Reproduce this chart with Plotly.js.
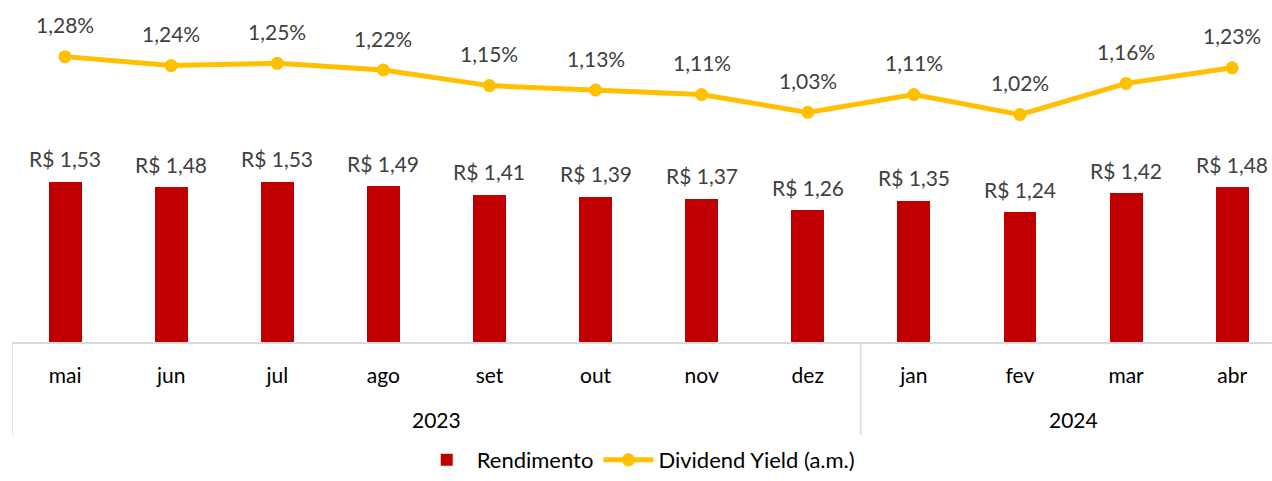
<!DOCTYPE html>
<html>
<head>
<meta charset="utf-8">
<script src="https://cdn.plot.ly/plotly-3.0.1.min.js"></script>
<style>html,body{margin:0;padding:0;background:#fff;}#chart{width:1272px;height:481px;}</style>
</head>
<body>
<div id="chart"></div>
<script>
const months = ['mai','jun','jul','ago','set','out','nov','dez','jan','fev','mar','abr'];
const years = ['2023','2023','2023','2023','2023','2023','2023','2023','2024','2024','2024','2024'];
const rendimento = [1.53,1.48,1.53,1.49,1.41,1.39,1.37,1.26,1.35,1.24,1.42,1.48];
const dividendYield = [1.28,1.24,1.25,1.22,1.15,1.13,1.11,1.03,1.11,1.02,1.16,1.23];

const fmt = v => v.toFixed(2).replace('.', ',');
const FONT = 'Lato, "Open Sans", sans-serif';
const GRID = '#d9d9d9';

// year groups derived from the years array
const groupNames = [], groupCenters = [], groupBounds = [-0.5];
let start = 0;
for (let i = 1; i <= years.length; i++) {
  if (i === years.length || years[i] !== years[start]) {
    groupNames.push(years[start]);
    groupCenters.push((start + i - 1) / 2);
    groupBounds.push(i - 0.5);
    start = i;
  }
}

const traces = [
  {
    type: 'bar', name: 'Rendimento',
    x: months, y: rendimento,
    marker: {color: '#C00000'}, width: 0.31,
    hoverinfo: 'skip'
  },
  {
    type: 'scatter', mode: 'lines+markers', name: 'Dividend Yield (a.m.)',
    x: months, y: dividendYield, yaxis: 'y2',
    line: {color: '#FFC000', width: 5},
    marker: {color: '#FFC000', size: 13},
    hoverinfo: 'skip'
  }
];

const annotations = [];
rendimento.forEach((v, i) => annotations.push({
  xref: 'x', yref: 'y', x: months[i], y: v, yshift: 23, yanchor: 'middle',
  text: 'R$ ' + fmt(v), showarrow: false,
  font: {family: FONT, size: 21, color: '#404040'}
}));
dividendYield.forEach((v, i) => annotations.push({
  xref: 'x', yref: 'y2', x: months[i], y: v, yshift: 32, yanchor: 'middle',
  text: fmt(v) + '%', showarrow: false,
  font: {family: FONT, size: 21, color: '#404040'}
}));
groupNames.forEach((g, k) => annotations.push({
  xref: 'x', yref: 'paper', x: groupCenters[k], y: -0.228, yanchor: 'middle',
  text: g, showarrow: false,
  font: {family: FONT, size: 21, color: '#000'}
}));

const shapes = groupBounds.map(b => ({
  type: 'line', xref: 'x', yref: 'paper', x0: b, x1: b, y0: 0, y1: -0.272,
  line: {color: GRID, width: 1.5}
}));

const xr = [-0.5, -0.5 + 1260/106.1];

const layout = {
  width: 1272, height: 481,
  margin: {l: 12, r: 0, t: 0, b: 139, autoexpand: false},
  paper_bgcolor: '#fff', plot_bgcolor: '#fff',
  font: {family: FONT, size: 21, color: '#000'},
  showlegend: true,
  legend: {orientation: 'h', x: 0.497, xanchor: 'center', y: -0.4064, yanchor: 'bottom',
           font: {family: FONT, size: 22, color: '#000'}, itemwidth: 50},
  xaxis: {
    type: 'category', range: xr, automargin: false,
    showline: true, linecolor: GRID, linewidth: 1.5,
    ticks: '', showgrid: false, zeroline: false,
    ticklabelstandoff: 14,
    tickfont: {family: FONT, size: 21, color: '#000'}
  },
  yaxis: {range: [0, 3.27], visible: false, showgrid: false, zeroline: false},
  yaxis2: {range: [0, 1.534], overlaying: 'y', side: 'right', visible: false, showgrid: false, zeroline: false},
  annotations: annotations,
  shapes: shapes,
  bargap: 0
};

Plotly.newPlot('chart', traces, layout, {displayModeBar: false, staticPlot: true});
</script>
</body>
</html>
